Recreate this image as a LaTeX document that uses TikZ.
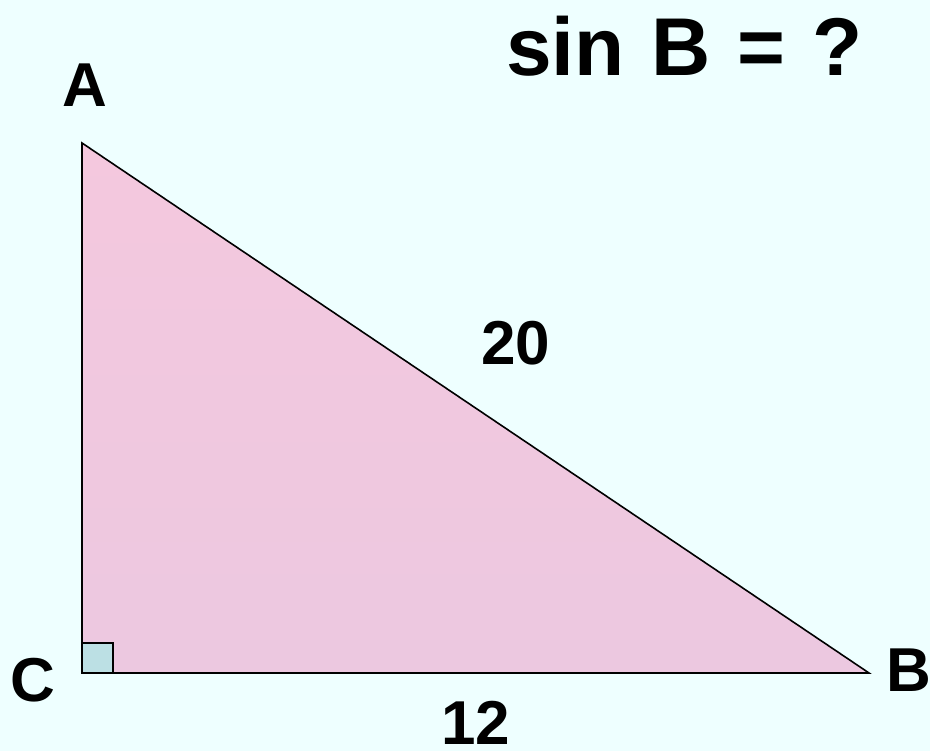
\documentclass[tikz,border=0pt]{standalone}
\usepackage{fontspec}
\setmainfont{Liberation Sans}
\begin{document}
\begin{tikzpicture}[x=1pt,y=1pt,
  lbl/.style={font=\fontsize{62}{62}\selectfont\bfseries, inner sep=0pt},
  ttl/.style={font=\fontsize{82}{82}\selectfont\bfseries, inner sep=0pt}]
\definecolor{bgc}{RGB}{238,255,255}
\definecolor{pinktop}{RGB}{244,200,222}
\definecolor{pinkbot}{RGB}{236,200,224}
\definecolor{sqc}{RGB}{188,224,228}
\fill[bgc] (0,0) rectangle (930,751);
\useasboundingbox (0,0) rectangle (930,751);
\coordinate (A) at (82,608);
\coordinate (C) at (82,78);
\coordinate (B) at (869,78);
\shade[top color=pinktop, bottom color=pinkbot] (A) -- (C) -- (B) -- cycle;
\draw[line width=1.6pt, line join=miter] (A) -- (C) -- (B) -- cycle;
\draw[line width=2.5pt, fill=sqc] (C) rectangle ++(31,30);
\node[lbl] (la) at (85,665.5) {A};
\node[lbl] (lc) at (33,71) {C};
\node[lbl, anchor=west] (lb) at (886,80.5) {B};
\node[lbl] (l20) at (516,408) {20};
\node[lbl] (l12) at (476,28.5) {12};
\node[ttl, anchor=base west] (title) at (506,675) {sin\hspace{0.327em}B\hspace{0.327em}=\hspace{0.327em}?};
\end{tikzpicture}
\end{document}
